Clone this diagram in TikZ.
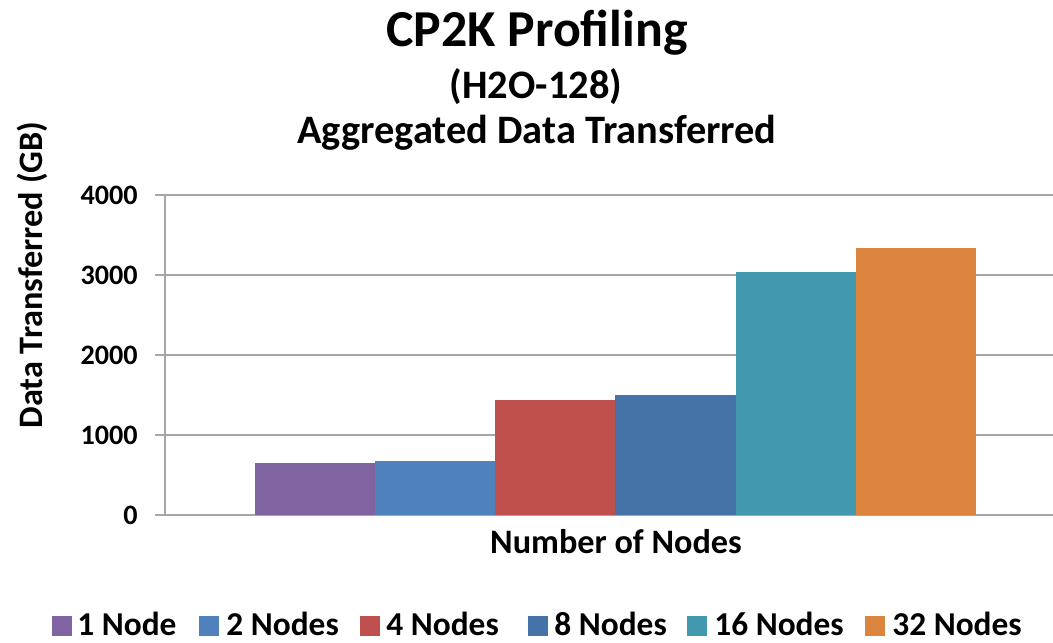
\documentclass[tikz,border=0pt]{standalone}
\usepackage{fontspec}
\setmainfont{Carlito}
\usepackage{xcolor}
\usepackage{tikz}
\definecolor{onecolor}{HTML}{8064A2}
\definecolor{twocolor}{HTML}{4F81BD}
\definecolor{fourcolor}{HTML}{C0504D}
\definecolor{eightcolor}{HTML}{4572A7}
\definecolor{sixteencolor}{HTML}{4198AF}
\definecolor{thirtytwocolor}{HTML}{DB843D}
\definecolor{gridcolor}{HTML}{A6A6A6}
\tikzset{
  gridline/.style={draw=gridcolor, line width=0.9pt},
  ticklabel/.style={anchor=east, inner sep=0pt, font=\bfseries\fontsize{16pt}{19pt}\selectfont},
  legendbox/.style={minimum width=11pt, minimum height=11pt, inner sep=0pt},
  legendlabel/.style={anchor=base west, inner sep=0pt, font=\bfseries\fontsize{19pt}{22pt}\selectfont},
}

\begin{document}
\begin{tikzpicture}[x=0.02cm, y=-0.02cm]%
\useasboundingbox (0,0) rectangle (1053,642);%
% titles
\node[anchor=base, font=\bfseries\fontsize{29.5pt}{34pt}\selectfont] (title) at (537,47) {CP2K Profiling};%
\node[anchor=base, font=\bfseries\fontsize{23pt}{27pt}\selectfont] (subtitle) at (536,98) {(H2O-128)};%
\node[anchor=base, font=\bfseries\fontsize{23pt}{27pt}\selectfont] (metric) at (537,143) {Aggregated Data Transferred};%
% grid and axis
\draw[gridline] (155,195) -- (1053,195);%
\draw[gridline] (155,275) -- (1053,275);%
\draw[gridline] (155,355) -- (1053,355);%
\draw[gridline] (155,435) -- (1053,435);%
\draw[gridline] (155,515) -- (1053,515);%
\draw[gridline] (165,195) -- (165,515);%
\node[ticklabel] (t4000) at (138,195.5) {4000};%
\node[ticklabel] (t3000) at (138,275.5) {3000};%
\node[ticklabel] (t2000) at (138,355.5) {2000};%
\node[ticklabel] (t1000) at (138,435.5) {1000};%
\node[ticklabel] (t0) at (138,515.5) {0};%
% bars
\fill[onecolor] (255,515) rectangle (375,463);%
\fill[twocolor] (375,515) rectangle (495,461);%
\fill[fourcolor] (495,515) rectangle (615,400);%
\fill[eightcolor] (615,515) rectangle (736,395);%
\fill[sixteencolor] (736,515) rectangle (856,272);%
\fill[thirtytwocolor] (856,515) rectangle (976,248);%
% axis titles
\node[rotate=90, font=\bfseries\fontsize{19.5pt}{23pt}\selectfont] (ylabel) at (32,275) {Data Transferred (GB)};%
\node[anchor=base, font=\bfseries\fontsize{19.5pt}{23pt}\selectfont] (xlabel) at (616,553) {Number of Nodes};%
% legend
\node[legendbox, fill=onecolor] (k1) at (62,626) {};%
\node[legendlabel] (l1) at (77,635) {1 Node};%
\node[legendbox, fill=twocolor] (k2) at (209,626) {};%
\node[legendlabel] (l2) at (226,635) {2 Nodes};%
\node[legendbox, fill=fourcolor] (k4) at (370,626) {};%
\node[legendlabel] (l4) at (386,635) {4 Nodes};%
\node[legendbox, fill=eightcolor] (k8) at (538,626) {};%
\node[legendlabel] (l8) at (554,635) {8 Nodes};%
\node[legendbox, fill=sixteencolor] (k16) at (697,626) {};%
\node[legendlabel] (l16) at (714,635) {16 Nodes};%
\node[legendbox, fill=thirtytwocolor] (k32) at (875,626) {};%
\node[legendlabel] (l32) at (892,635) {32 Nodes};%
\end{tikzpicture}
\end{document}
